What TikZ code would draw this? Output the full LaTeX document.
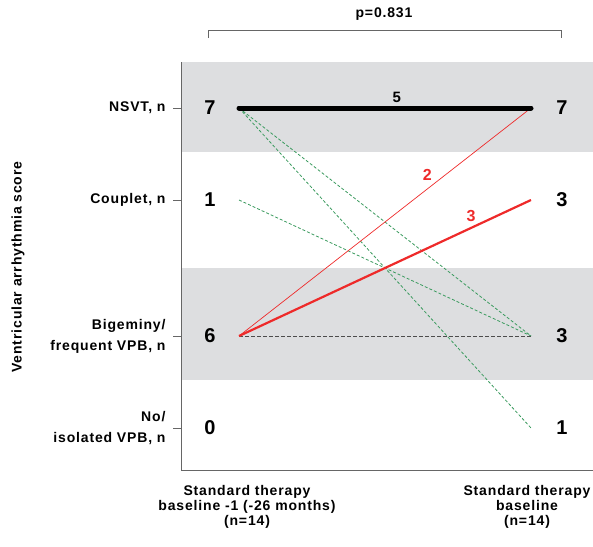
\documentclass[tikz,border=0pt]{standalone}
\usepackage{fontspec}
\setmainfont{Liberation Sans}[LetterSpace=6]
\usetikzlibrary{positioning}
\definecolor{bandgray}{HTML}{DDDEE0}
\definecolor{pairgreen}{HTML}{3A9A5E}
\definecolor{pairred}{HTML}{EE2A2A}
\begin{document}
\begin{tikzpicture}[x=1pt, y=-1pt, font=\fontsize{14}{15}\selectfont\bfseries,
    cat/.style = {anchor=east, align=right, font=\fontsize{14}{21}\selectfont\bfseries},
    count/.style = {font=\fontsize{20}{20}\selectfont\bfseries},
    cond/.style = {align=center, font=\fontsize{14}{15}\selectfont\bfseries},
    same/.style = {line width=5pt, line cap=round},
    up/.style = {pairred},
    down/.style = {pairgreen, dashed, dash pattern=on 3pt off 2pt, line width=0.8pt},
    flat/.style = {black!70, dashed, dash pattern=on 4pt off 2pt, line width=0.8pt}]
	\useasboundingbox (0,0) rectangle (593,546);
	% bands and axes
	\fill[bandgray] (181,62) rectangle (593,152);
	\fill[bandgray] (181,268) rectangle (593,380);
	\draw[gray!80!black, line width=0.8pt] (181,62) -- (181,470) -- (593,470);
	% categories
	\foreach \y/\t in {108/{NSVT, n}, 200/{Couplet, n}, 336/{Bigeminy/\\frequent VPB, n}, 428/{No/\\isolated VPB, n}} {
		\draw[gray!80!black, line width=0.8pt] (173,\y) -- (181,\y);
		\node[cat] at (169,\y) {\t};
	}
	\node[rotate=90] (score) at (18,267) {Ventricular arrhythmia score};
	% points
	\coordinate (l1) at (239,108);
	\coordinate (l2) at (239,200);
	\coordinate (l3) at (239,336);
	\coordinate (r1) at (531,108);
	\coordinate (r2) at (531,200);
	\coordinate (r3) at (531,336);
	\coordinate (r4) at (531,428);
	% counts
	\node[count] (n1) at (210,108) {7};
	\node[count] (n2) at (210,200) {1};
	\node[count] (n3) at (210,336) {6};
	\node[count] (n4) at (210,428) {0};
	\node[count] (m1) at (562,108) {7};
	\node[count] (m2) at (562,200) {3};
	\node[count] (m3) at (562,336) {3};
	\node[count] (m4) at (562,428) {1};
	% pairs
	\draw[down] (l1) -- (r3);
	\draw[down] (l1) -- (r4);
	\draw[down] (l2) -- (r3);
	\draw[flat] (l3) -- (r3);
	\draw[up, line width=0.7pt] (l3) -- (r1) node[pos=0.67, above left=-1pt, font=\fontsize{16}{16}\selectfont\bfseries] {2};
	\draw[up, line width=2.2pt] (l3) -- (r2) node[pos=0.82, above left=-2pt, font=\fontsize{16}{16}\selectfont\bfseries] {3};
	\draw[same] (l1) -- (r1) node[pos=0.54, above=0pt, font=\fontsize{15}{15}\selectfont\bfseries] {5};
	% conditions
	\node[cond] (base1) at (247,507) {Standard therapy\\baseline -1 (-26 months)\\(n=14)};
	\node[cond] (base0) at (527,507) {Standard therapy\\baseline\\(n=14)};
	% comparison
	\coordinate (b1) at (208,38);
	\coordinate (b2) at (561,38);
	\draw[gray!80!black, line width=0.8pt] (b1) -- ++(0,-8) -| (b2);
	\node (p) at (384,14) {p=0.831};
\end{tikzpicture}
\end{document}
